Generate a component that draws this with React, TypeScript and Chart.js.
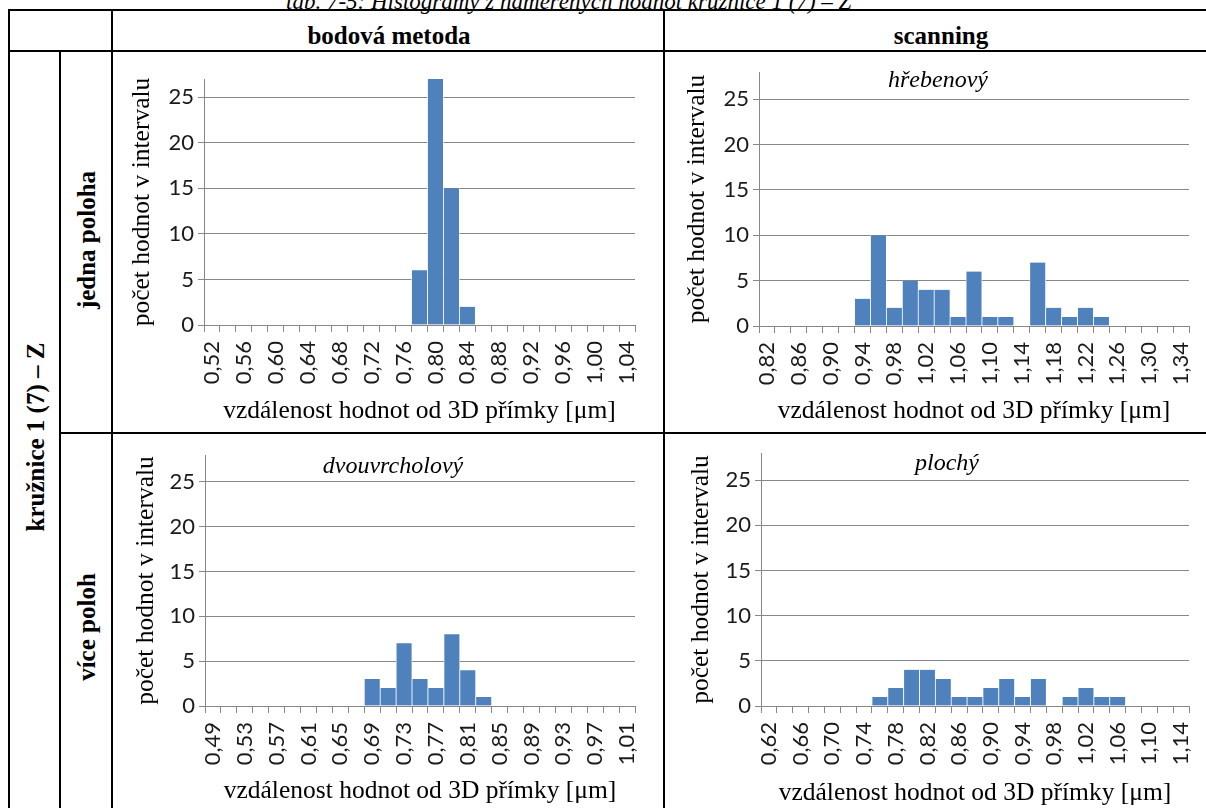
import React, { useEffect, useRef } from 'react';
import { Chart, registerables } from 'chart.js';
Chart.register(...registerables);

// ---------- data ----------
const categoriesPointSingle = ['0,52','0,54','0,56','0,58','0,60','0,62','0,64','0,66','0,68','0,70','0,72','0,74','0,76','0,78','0,80','0,82','0,84','0,86','0,88','0,90','0,92','0,94','0,96','0,98','1,00','1,02','1,04'];
const countsPointSingle = [0,0,0,0,0,0,0,0,0,0,0,0,0,6,27,15,2,0,0,0,0,0,0,0,0,0,0];

const categoriesScanSingle = ['0,82','0,84','0,86','0,88','0,90','0,92','0,94','0,96','0,98','1,00','1,02','1,04','1,06','1,08','1,10','1,12','1,14','1,16','1,18','1,20','1,22','1,24','1,26','1,28','1,30','1,32','1,34'];
const countsScanSingle = [0,0,0,0,0,0,3,10,2,5,4,4,1,6,1,1,0,7,2,1,2,1,0,0,0,0,0];

const categoriesPointMulti = ['0,49','0,51','0,53','0,55','0,57','0,59','0,61','0,63','0,65','0,67','0,69','0,71','0,73','0,75','0,77','0,79','0,81','0,83','0,85','0,87','0,89','0,91','0,93','0,95','0,97','0,99','1,01'];
const countsPointMulti = [0,0,0,0,0,0,0,0,0,0,3,2,7,3,2,8,4,1,0,0,0,0,0,0,0,0,0];

const categoriesScanMulti = ['0,62','0,64','0,66','0,68','0,70','0,72','0,74','0,76','0,78','0,80','0,82','0,84','0,86','0,88','0,90','0,92','0,94','0,96','0,98','1,00','1,02','1,04','1,06','1,08','1,10','1,12','1,14'];
const countsScanMulti = [0,0,0,0,0,0,0,1,2,4,4,3,1,1,2,3,1,3,0,1,2,1,1,0,0,0,0];

const caption = 'tab. 7-5: Histogramy z naměřených hodnot kružnice 1 (7) – Z';
const colHeaders = ['bodová metoda', 'scanning'];
const rowGroup = 'kružnice 1 (7) – Z';
const rowHeaders = ['jedna poloha', 'více poloh'];
const shapeTitles = ['hřebenový', 'dvouvrcholový', 'plochý'];
const xAxisTitle = 'vzdálenost hodnot od 3D přímky [μm]';
const yAxisTitle = 'počet hodnot v intervalu';

// ---------- style ----------
const SERIF = '"Liberation Serif", "Times New Roman", serif';
const SANS = 'Lato, "Open Sans", sans-serif';
const GRID = '#878787';
const BAR = '#4F81BD';
const TEXT = '#1a1a1a';
const AXIS_TITLE_SIZE = 25.5;
const TICK_SIZE = 22;

type Geo = {
  left: number; top: number; width: number; height: number;
  plotL: number; plotR: number; plotT: number; plotB: number;
  yTitleX: number; xTitleY: number; yMax: number;
};

function Histogram({ labels, values, geo }: { labels: string[]; values: number[]; geo: Geo }) {
  const ref = useRef<HTMLCanvasElement>(null);
  useEffect(() => {
    const lh = AXIS_TITLE_SIZE * 1.2;
    const padLeft = geo.yTitleX - geo.left - lh / 2;
    const yWidth = geo.plotL - geo.left - padLeft;
    const padRight = geo.left + geo.width - geo.plotR;
    const padTop = geo.plotT - geo.top;
    const xBottom = geo.xTitleY + lh / 2;
    const xHeight = xBottom - geo.plotB;
    const padBottom = geo.top + geo.height - xBottom;
    const chart = new Chart(ref.current as HTMLCanvasElement, {
      type: 'bar',
      data: {
        labels,
        datasets: [{
          data: values,
          backgroundColor: BAR,
          borderColor: '#ffffff',
          borderWidth: { left: 0.75, right: 0.75, top: 0, bottom: 0 },
          barPercentage: 1,
          categoryPercentage: 1,
        }],
      },
      options: {
        responsive: false,
        animation: false,
        events: [],
        layout: { padding: { left: padLeft, right: padRight, top: padTop, bottom: padBottom } },
        plugins: { legend: { display: false }, tooltip: { enabled: false }, title: { display: false } },
        scales: {
          x: {
            offset: true,
            grid: { display: true, drawOnChartArea: false, drawTicks: true, tickLength: 7, color: GRID, offset: true },
            border: { display: true, color: GRID, width: 1 },
            ticks: {
              autoSkip: false, minRotation: 90, maxRotation: 90, padding: 9,
              font: { family: SANS, size: TICK_SIZE }, color: TEXT,
              callback: (_v: any, i: number) => (i % 2 === 0 ? labels[i] : ''),
            },
            title: { display: true, text: xAxisTitle, font: { family: SERIF, size: AXIS_TITLE_SIZE }, color: '#000', padding: 0 },
            afterFit: (s: any) => { s.height = xHeight; s.paddingLeft = 0; s.paddingRight = 0; },
          },
          y: {
            min: 0, max: geo.yMax,
            grid: { color: GRID, tickLength: 6, drawTicks: true },
            border: { display: true, color: GRID, width: 1 },
            ticks: { stepSize: 5, includeBounds: false, padding: 4, font: { family: SANS, size: TICK_SIZE }, color: TEXT },
            title: { display: true, text: yAxisTitle, font: { family: SERIF, size: AXIS_TITLE_SIZE }, color: '#000', padding: 0 },
            afterFit: (s: any) => { s.width = yWidth; s.paddingTop = 0; s.paddingBottom = 0; },
          },
        },
      } as any,
    });
    return () => chart.destroy();
  }, []);
  return (
    <canvas
      ref={ref}
      width={geo.width}
      height={geo.height}
      style={{ position: 'absolute', left: geo.left, top: geo.top, width: geo.width, height: geo.height }}
    />
  );
}

const line = (left: number, top: number, width: number, height: number) => (
  <div style={{ position: 'absolute', left, top, width, height, background: '#000' }} />
);

const baseTop = (baseline: number, size: number) => baseline - 0.8375 * size;

function Label({ text, cx, baseline, size, bold, italic }: { text: string; cx: number; baseline: number; size: number; bold?: boolean; italic?: boolean }) {
  return (
    <div style={{
      position: 'absolute', left: cx, top: baseTop(baseline, size), transform: 'translateX(-50%)',
      fontFamily: SERIF, fontSize: size, lineHeight: `${size}px`, whiteSpace: 'nowrap',
      fontWeight: bold ? 'bold' : 'normal', fontStyle: italic ? 'italic' : 'normal', color: '#000',
    }}>{text}</div>
  );
}

function VLabel({ text, cx, cy, size }: { text: string; cx: number; cy: number; size: number }) {
  return (
    <div style={{
      position: 'absolute', left: cx, top: cy, transform: 'translate(-50%, -50%) rotate(-90deg)',
      fontFamily: SERIF, fontSize: size, lineHeight: `${size}px`, whiteSpace: 'nowrap', fontWeight: 'bold', color: '#000',
    }}>{text}</div>
  );
}

export default function App() {
  const g1: Geo = { left: 113, top: 52, width: 550, height: 380, plotL: 204, plotR: 635, plotT: 79, plotB: 325, yTitleX: 142, xTitleY: 411, yMax: 27 };
  const g2: Geo = { left: 665, top: 52, width: 541, height: 380, plotL: 759, plotR: 1189, plotT: 72, plotB: 326, yTitleX: 697, xTitleY: 411, yMax: 28 };
  const g3: Geo = { left: 113, top: 434, width: 550, height: 374, plotL: 205, plotR: 635, plotT: 455, plotB: 706, yTitleX: 146, xTitleY: 791, yMax: 28 };
  const g4: Geo = { left: 665, top: 434, width: 541, height: 374, plotL: 761, plotR: 1189, plotT: 453, plotB: 706, yTitleX: 701, xTitleY: 793, yMax: 28 };
  return (
    <div style={{ position: 'fixed', left: 0, top: 0, width: 1206, height: 808, overflow: 'hidden', background: '#fff' }}>
      <div style={{
        position: 'absolute', left: 286, top: baseTop(9, 23), fontFamily: SERIF, fontStyle: 'italic',
        fontSize: 23, lineHeight: '23px', whiteSpace: 'nowrap', color: '#000',
      }}>{caption}</div>

      {line(8, 9, 1198, 2)}
      {line(8, 50, 1198, 2)}
      {line(59, 432, 1147, 2)}
      {line(8, 9, 2, 799)}
      {line(59, 50, 2, 758)}
      {line(111, 9, 2, 799)}
      {line(663, 9, 2, 799)}

      <Label text={colHeaders[0]} cx={389} baseline={44} size={25} bold />
      <Label text={colHeaders[1]} cx={941} baseline={44} size={25} bold />
      <VLabel text={rowGroup} cx={35} cy={437} size={25} />
      <VLabel text={rowHeaders[0]} cx={86} cy={240} size={25} />
      <VLabel text={rowHeaders[1]} cx={86} cy={627} size={25} />

      <Histogram labels={categoriesPointSingle} values={countsPointSingle} geo={g1} />
      <Histogram labels={categoriesScanSingle} values={countsScanSingle} geo={g2} />
      <Histogram labels={categoriesPointMulti} values={countsPointMulti} geo={g3} />
      <Histogram labels={categoriesScanMulti} values={countsScanMulti} geo={g4} />

      <Label text={shapeTitles[0]} cx={938} baseline={87} size={24} italic />
      <Label text={shapeTitles[1]} cx={393} baseline={473} size={24} italic />
      <Label text={shapeTitles[2]} cx={947} baseline={470} size={24} italic />
    </div>
  );
}
